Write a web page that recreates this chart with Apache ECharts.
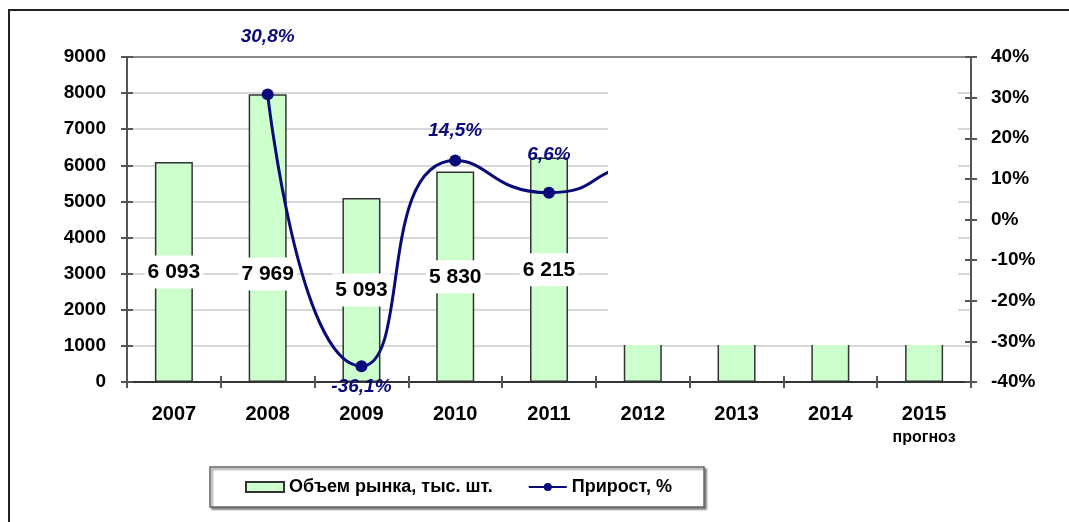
<!DOCTYPE html>
<html>
<head>
<meta charset="utf-8">
<title>Объем рынка</title>
<script src="https://cdn.jsdelivr.net/npm/echarts@6/dist/echarts.min.js"></script>
<style>
  html, body { margin: 0; padding: 0; background: #fff; }
  #chart { width: 1069px; height: 522px; }
</style>
</head>
<body>
<div id="chart"></div>
<script>
// categories and values
const years = ['2007', '2008', '2009', '2010', '2011', '2012', '2013', '2014', '2015'];
const forecastNote = 'прогноз';
// market volume, thousand units (2012-2015 are hidden in the picture, estimates)
const volume = [6093, 7969, 5093, 5830, 6215, 7020, 7600, 8200, 8800];
// growth, % (no value for 2007; 2012+ hidden, estimates)
const growth = [null, 30.8, -36.1, 14.5, 6.6, 13, 12, 8, 7];
const leftTicks = [0, 9000, 1000];
const rightTicks = [-40, 40, 10];

const FONT = '"Liberation Sans", Arial, sans-serif';
const NAVY = '#0a0a78';

// label tweaks (layout only)
const volumeLabelOffset = [0, 36, 0, 0, 0, 0, 0, 0, 0];
const growthLabelOffset = [0, -37, 0, -9, -17, 0, 0, 0, 0];

const fmtThousands = v => String(v).replace(/\B(?=(\d{3})+(?!\d))/g, ' ');
const fmtPct = v => String(v).replace('.', ',') + '%';

const volumeData = volume.map((v, i) => ({
  value: v,
  label: { offset: [0, volumeLabelOffset[i]], show: i < 5 }
}));
const growthData = growth.map((v, i) => ({
  value: v == null ? '-' : v,
  label: {
    show: v != null && i < 5,
    position: v < 0 ? 'bottom' : 'top',
    offset: [0, growthLabelOffset[i]]
  }
}));

const chart = echarts.init(document.getElementById('chart'));

const tickStyle = { color: '#555', width: 2 };
const gridGray = '#d8d8d8';

chart.setOption({
  animation: false,
  backgroundColor: '#fff',
  grid: { left: 127, right: 98, top: 57, bottom: 140 },
  legend: {
    left: 210,
    top: 467,
    padding: [11, 32, 11, 35],
    itemGap: 35,
    itemWidth: 38,
    itemHeight: 10,
    backgroundColor: '#fff',
    borderColor: '#666',
    borderWidth: 1.5,
    shadowColor: 'rgba(0,0,0,0.45)',
    shadowOffsetX: 2,
    shadowOffsetY: 2,
    shadowBlur: 2,
    textStyle: { fontFamily: FONT, fontSize: 18, fontWeight: 'bold', color: '#000' },
    data: [
      { name: 'Объем рынка, тыс. шт.', icon: 'rect' },
      { name: 'Прирост, %' }
    ]
  },
  xAxis: [
    {
      type: 'category',
      data: years,
      axisLine: { onZero: false, lineStyle: { color: '#333', width: 2 } },
      axisTick: { show: true, interval: 0, length: 6, lineStyle: tickStyle },
      axisLabel: {
        interval: 0,
        margin: 20,
        formatter: v => v === '2015' ? '{y|' + v + '}\n{n|' + forecastNote + '}' : '{y|' + v + '}',
        rich: {
          y: { fontFamily: FONT, fontSize: 20, fontWeight: 'bold', color: '#000', lineHeight: 25 },
          n: { fontFamily: FONT, fontSize: 16, fontWeight: 'bold', color: '#000', lineHeight: 22 }
        }
      }
    },
    {
      type: 'category',
      data: years,
      position: 'bottom',
      axisLine: { show: false, onZero: false },
      axisTick: { show: true, inside: true, interval: 0, length: 6, lineStyle: tickStyle },
      axisLabel: { show: false }
    }
  ],
  yAxis: [
    {
      type: 'value',
      position: 'left',
      min: leftTicks[0], max: leftTicks[1], interval: leftTicks[2],
      axisLine: { show: true, lineStyle: { color: '#555', width: 2 } },
      axisTick: { show: true, length: 6, lineStyle: tickStyle },
      axisLabel: { margin: 21, formatter: v => String(v), fontFamily: FONT, fontSize: 19, fontWeight: 'bold', color: '#000' },
      splitLine: {
        show: true,
        showMinLine: false,
        lineStyle: {
          color: [gridGray, gridGray, gridGray, gridGray, gridGray, gridGray, gridGray, gridGray, '#8a8a8a'],
          width: 2
        }
      }
    },
    {
      type: 'value',
      position: 'right',
      min: rightTicks[0], max: rightTicks[1], interval: rightTicks[2],
      axisLine: { show: true, lineStyle: { color: '#555', width: 2 } },
      axisTick: { show: true, length: 6, lineStyle: tickStyle },
      axisLabel: { margin: 20, formatter: v => v + '%', fontFamily: FONT, fontSize: 19, fontWeight: 'bold', color: '#000' },
      splitLine: { show: false }
    },
    {
      type: 'value',
      position: 'left',
      min: leftTicks[0], max: leftTicks[1], interval: leftTicks[2],
      axisLine: { show: false },
      axisTick: { show: true, inside: true, length: 6, lineStyle: tickStyle },
      axisLabel: { show: false },
      splitLine: { show: false }
    },
    {
      type: 'value',
      position: 'right',
      min: rightTicks[0], max: rightTicks[1], interval: rightTicks[2],
      axisLine: { show: false },
      axisTick: { show: true, inside: true, length: 6, lineStyle: tickStyle },
      axisLabel: { show: false },
      splitLine: { show: false }
    }
  ],
  series: [
    {
      name: 'Объем рынка, тыс. шт.',
      type: 'bar',
      yAxisIndex: 0,
      barWidth: 38,
      data: volumeData,
      itemStyle: { color: '#ccffcc', borderColor: '#333', borderWidth: 1.5 },
      label: {
        show: true,
        position: 'inside',
        formatter: p => fmtThousands(p.value),
        fontFamily: FONT,
        fontSize: 21,
        fontWeight: 'bold',
        color: '#000',
        backgroundColor: '#fff',
        padding: [6, 3]
      }
    },
    {
      name: 'Прирост, %',
      type: 'line',
      yAxisIndex: 1,
      smooth: 0.6,
      connectNulls: false,
      data: growthData,
      symbol: 'circle',
      symbolSize: 12,
      z: 5,
      lineStyle: { color: NAVY, width: 3 },
      itemStyle: { color: NAVY },
      label: {
        show: true,
        formatter: p => fmtPct(p.value),
        fontFamily: FONT,
        fontSize: 19,
        fontWeight: 'bold',
        fontStyle: 'italic',
        color: NAVY
      }
    }
  ],
  graphic: [
    {
      // blank area that hides the upper right part of the plot, as in the source
      type: 'rect',
      z: 100,
      shape: { x: 608, y: 59, width: 350, height: 286 },
      style: { fill: '#fff' }
    },
    {
      type: 'rect',
      z: 100,
      shape: { x: 9, y: 10, width: 1200, height: 700 },
      style: { fill: null, stroke: '#222', lineWidth: 2 }
    }
  ]
});

window.addEventListener('resize', () => chart.resize());
</script>
</body>
</html>
